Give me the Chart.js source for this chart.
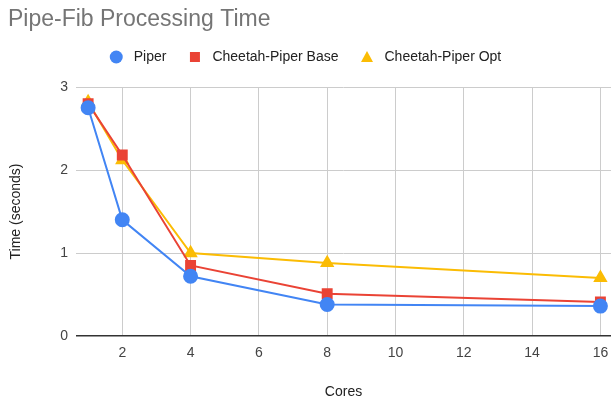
<!DOCTYPE html>
<html><head><meta charset="utf-8">
<script src="https://cdn.jsdelivr.net/npm/chart.js@4/dist/chart.umd.min.js"></script>
<style>html,body{margin:0;padding:0;background:#fff;overflow:hidden}#wrap{width:611px;height:399px;position:relative}</style>
</head><body><div id="wrap"><canvas id="c"></canvas></div>
<script>
const cores = [1, 2, 4, 8, 16];
const piper = [2.75, 1.40, 0.72, 0.38, 0.36];
const cheetahBase = [2.80, 2.18, 0.85, 0.51, 0.41];
const cheetahOpt = [2.82, 2.12, 1.00, 0.88, 0.70];
const xTicks = [2, 4, 6, 8, 10, 12, 14, 16];
const yTicks = [0, 1, 2, 3];

const FONT = "'Liberation Sans', Arial, sans-serif";
function pts(vals){ return cores.map((c,i)=>({x:c,y:vals[i]})); }

// Legend drawn on the canvas, centered on the full width (as in the reference)
const legendPlugin = {
  id: 'customLegend',
  afterDraw(chart) {
    const ctx = chart.ctx;
    const y = 57;
    const markerW = 13, gapText = 11, gapItem = 22;
    ctx.save();
    ctx.font = '14px ' + FONT;
    const items = chart.data.datasets.map(ds => ({ds, w: ctx.measureText(ds.label).width}));
    let total = 0;
    items.forEach((it, i) => { total += markerW + gapText + it.w + (i < items.length - 1 ? gapItem : 0); });
    let x = (chart.width - total) / 2;
    items.forEach(it => {
      const cx = x + markerW / 2;
      ctx.fillStyle = it.ds.borderColor;
      ctx.beginPath();
      if (it.ds.pointStyle === 'circle') {
        ctx.arc(cx, y, 6.5, 0, Math.PI * 2);
      } else if (it.ds.pointStyle === 'rect') {
        ctx.rect(cx - 5, y - 5, 10, 10);
      } else {
        ctx.moveTo(cx, y - 6);
        ctx.lineTo(cx + 6, y + 5);
        ctx.lineTo(cx - 6, y + 5);
        ctx.closePath();
      }
      ctx.fill();
      ctx.fillStyle = '#222';
      ctx.textBaseline = 'middle';
      ctx.textAlign = 'left';
      ctx.fillText(it.ds.label, x + markerW + gapText, y);
      x += markerW + gapText + it.w + gapItem;
    });
    ctx.restore();
  }
};

new Chart(document.getElementById('c'), {
  type: 'line',
  data: {
    datasets: [
      {label:'Piper', data: pts(piper), borderColor:'#4285F4', backgroundColor:'#4285F4', borderWidth:2, pointStyle:'circle', pointRadius:6.5, pointHoverRadius:6.5, order:1},
      {label:'Cheetah-Piper Base', data: pts(cheetahBase), borderColor:'#EA4335', backgroundColor:'#EA4335', borderWidth:2, pointStyle:'rect', pointRadius:6.3, pointHoverRadius:6.3, order:2},
      {label:'Cheetah-Piper Opt', data: pts(cheetahOpt), borderColor:'#FBBC04', backgroundColor:'#FBBC04', borderWidth:2, pointStyle:'triangle', pointRadius:6.3, pointHoverRadius:6.3, order:3}
    ]
  },
  plugins: [legendPlugin],
  options: {
    responsive: true, maintainAspectRatio: false, animation: false,
    layout: {autoPadding: false, padding: {left: 8, right: 0, top: 5, bottom: 0}},
    plugins: {
      tooltip: {enabled: false},
      legend: {display: false},
      title: {display: true, text: 'Pipe-Fib Processing Time', align: 'start', color: '#757575',
        font: {family: FONT, size: 23, weight: 'normal'}, padding: {top: 1, bottom: 53.4}}
    },
    scales: {
      x: {type: 'linear', min: 0.645, max: 16.31,
        afterBuildTicks: ax => { ax.ticks = xTicks.map(v => ({value: v})); },
        grid: {color: '#cccccc', lineWidth: 1, drawTicks: false},
        border: {display: false},
        ticks: {color: '#444', font: {family: FONT, size: 14}, padding: 9},
        title: {display: true, text: 'Cores', color: '#222', font: {family: FONT, size: 14}, padding: {top: 14, bottom: -2}},
        afterFit: ax => { ax.height = 63; ax.paddingLeft = 0; ax.paddingRight = 0; }
      },
      y: {type: 'linear', min: 0, max: 3,
        afterBuildTicks: ax => { ax.ticks = yTicks.map(v => ({value: v})); },
        grid: {color: ctx => ctx.tick && ctx.tick.value === 0 ? '#333333' : '#cccccc',
               lineWidth: ctx => ctx.tick && ctx.tick.value === 0 ? 1.5 : 1, drawTicks: false},
        border: {display: false},
        ticks: {color: '#444', font: {family: FONT, size: 14}, padding: 8},
        title: {display: true, text: 'Time (seconds)', color: '#222', font: {family: FONT, size: 14}, padding: {top: 0, bottom: 10}},
        afterFit: ax => { ax.width = 68; ax.paddingTop = 0; ax.paddingBottom = 0; }
      }
    }
  }
});
</script></body></html>
